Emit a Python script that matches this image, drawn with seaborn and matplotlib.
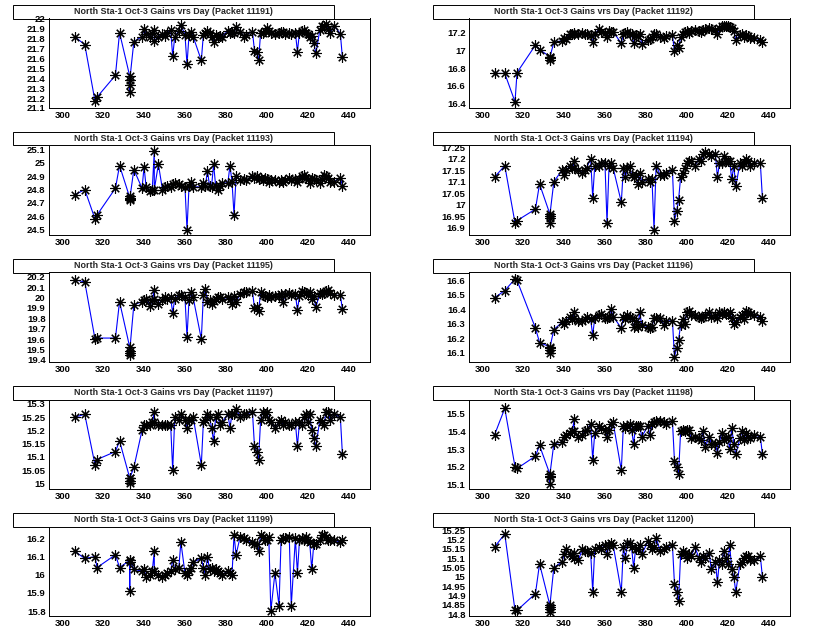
import matplotlib
matplotlib.use("Agg")
import matplotlib.pyplot as plt
from matplotlib.patches import Rectangle
from matplotlib.ticker import MultipleLocator, AutoMinorLocator, FuncFormatter
import seaborn as sns
import pandas as pd

# days (shared by all packets)
days = [306, 311, 316, 317, 326, 328, 333, 333, 333, 333,
        335, 339, 340, 341, 343, 344, 345, 345, 347, 349,
        350, 351, 353, 354, 355, 357, 358, 360, 361, 362,
        363, 364, 368, 369, 370, 371, 372, 373, 374, 375,
        376, 377, 378, 381, 382, 383, 384, 385, 387, 389,
        390, 393, 394, 395, 396, 397, 398, 399, 400, 401,
        402, 404, 406, 407, 408, 409, 411, 412, 414, 415,
        416, 417, 418, 419, 420, 421, 422, 423, 424, 426,
        427, 428, 429, 430, 431, 433, 436, 437]

packets = [11191, 11192, 11193, 11194, 11195, 11196, 11197, 11198, 11199, 11200]

gain_11191 = [21.82, 21.74, 21.17, 21.21, 21.43, 21.86, 21.42, 21.33, 21.26, 21.38,
              21.77, 21.82, 21.90, 21.85, 21.82, 21.86, 21.89, 21.78, 21.82, 21.85,
              21.83, 21.86, 21.89, 21.62, 21.82, 21.88, 21.94, 21.84, 21.54, 21.84,
              21.87, 21.82, 21.58, 21.84, 21.86, 21.88, 21.86, 21.82, 21.77, 21.84,
              21.82, 21.83, 21.82, 21.88, 21.86, 21.87, 21.86, 21.92, 21.87, 21.82,
              21.84, 21.87, 21.68, 21.66, 21.58, 21.86, 21.86, 21.88, 21.91, 21.88,
              21.86, 21.85, 21.86, 21.87, 21.87, 21.85, 21.86, 21.85, 21.86, 21.67,
              21.86, 21.88, 21.89, 21.86, 21.85, 21.82, 21.83, 21.76, 21.65, 21.89,
              21.93, 21.93, 21.95, 21.90, 21.86, 21.93, 21.85, 21.61]

gain_11192 = [16.74, 16.74, 16.42, 16.75, 17.06, 17.01, 16.93, 16.91, 16.89, 16.92,
              17.09, 17.11, 17.14, 17.13, 17.19, 17.18, 17.20, 17.18, 17.19, 17.20,
              17.18, 17.19, 17.17, 17.10, 17.18, 17.24, 17.21, 17.20, 17.15, 17.22,
              17.21, 17.21, 17.08, 17.19, 17.20, 17.21, 17.19, 17.18, 17.08, 17.17,
              17.16, 17.19, 17.07, 17.12, 17.13, 17.15, 17.18, 17.19, 17.15, 17.14,
              17.16, 17.17, 16.99, 17.06, 17.03, 17.15, 17.19, 17.21, 17.22, 17.20,
              17.22, 17.23, 17.22, 17.21, 17.23, 17.24, 17.25, 17.24, 17.23, 17.19,
              17.25, 17.27, 17.28, 17.27, 17.28, 17.26, 17.25, 17.22, 17.12, 17.17,
              17.18, 17.15, 17.17, 17.16, 17.14, 17.14, 17.12, 17.09]

gain_11193 = [24.76, 24.80, 24.58, 24.61, 24.81, 24.98, 24.74, 24.72, 24.75, 24.73,
              24.95, 24.81, 24.97, 24.82, 24.79, 24.80, 25.09, 24.80, 24.99, 24.80,
              24.82, 24.83, 24.82, 24.84, 24.85, 24.84, 24.83, 24.82, 24.50, 24.83,
              24.86, 24.82, 24.82, 24.85, 24.83, 24.94, 24.83, 24.82, 24.99, 24.83,
              24.80, 24.83, 24.85, 24.85, 24.98, 24.86, 24.61, 24.90, 24.87, 24.88,
              24.87, 24.90, 24.89, 24.90, 24.88, 24.89, 24.87, 24.89, 24.88, 24.86,
              24.87, 24.87, 24.86, 24.87, 24.86, 24.87, 24.89, 24.87, 24.88, 24.86,
              24.88, 24.90, 24.91, 24.89, 24.88, 24.85, 24.89, 24.88, 24.87, 24.85,
              24.88, 24.91, 24.90, 24.89, 24.86, 24.86, 24.89, 24.83]

gain_11194 = [17.12, 17.17, 16.92, 16.93, 16.98, 17.09, 16.96, 16.94, 16.92, 16.95,
              17.10, 17.15, 17.13, 17.15, 17.17, 17.16, 17.19, 17.16, 17.15, 17.14,
              17.15, 17.16, 17.20, 17.03, 17.17, 17.17, 17.18, 17.18, 16.92, 17.17,
              17.18, 17.16, 17.01, 17.16, 17.12, 17.16, 17.17, 17.13, 17.12, 17.13,
              17.09, 17.14, 17.10, 17.11, 17.10, 17.11, 16.89, 17.17, 17.13, 17.13,
              17.14, 17.15, 16.93, 16.97, 17.02, 17.12, 17.14, 17.16, 17.18, 17.19,
              17.19, 17.17, 17.20, 17.19, 17.22, 17.23, 17.22, 17.21, 17.22, 17.12,
              17.18, 17.18, 17.21, 17.19, 17.19, 17.19, 17.11, 17.17, 17.08, 17.18,
              17.17, 17.18, 17.20, 17.19, 17.17, 17.18, 17.18, 17.03]

gain_11195 = [20.17, 20.15, 19.60, 19.61, 19.61, 19.96, 19.52, 19.47, 19.45, 19.49,
              19.93, 19.96, 19.98, 19.99, 19.92, 19.98, 20.07, 19.99, 19.94, 19.98,
              20.00, 19.99, 20.00, 19.85, 19.99, 20.02, 20.02, 20.00, 19.62, 19.98,
              20.05, 20.00, 19.60, 20.02, 20.08, 19.96, 19.98, 19.94, 19.97, 19.99,
              20.00, 20.00, 19.99, 20.00, 19.99, 19.94, 20.01, 19.96, 20.03, 20.05,
              20.05, 20.06, 19.90, 19.91, 19.87, 20.05, 20.02, 20.01, 20.00, 20.02,
              20.00, 20.01, 20.01, 20.03, 19.96, 20.03, 20.04, 20.02, 20.03, 19.88,
              20.01, 20.06, 20.05, 20.04, 20.02, 20.05, 19.99, 20.01, 19.91, 20.04,
              20.03, 20.04, 20.06, 20.07, 20.04, 20.02, 20.02, 19.89]

gain_11196 = [16.48, 16.53, 16.61, 16.60, 16.27, 16.17, 16.14, 16.12, 16.10, 16.13,
              16.26, 16.31, 16.30, 16.32, 16.35, 16.33, 16.38, 16.34, 16.32, 16.32,
              16.33, 16.35, 16.33, 16.22, 16.34, 16.36, 16.37, 16.34, 16.34, 16.35,
              16.40, 16.35, 16.27, 16.35, 16.33, 16.36, 16.35, 16.34, 16.28, 16.32,
              16.28, 16.38, 16.29, 16.28, 16.27, 16.28, 16.34, 16.34, 16.34, 16.29,
              16.32, 16.32, 16.07, 16.13, 16.19, 16.29, 16.33, 16.30, 16.38, 16.39,
              16.36, 16.36, 16.35, 16.34, 16.35, 16.36, 16.38, 16.35, 16.36, 16.34,
              16.38, 16.37, 16.38, 16.37, 16.37, 16.38, 16.34, 16.30, 16.31, 16.35,
              16.36, 16.33, 16.39, 16.38, 16.37, 16.36, 16.35, 16.32]

gain_11197 = [15.25, 15.26, 15.07, 15.09, 15.12, 15.16, 15.02, 15.01, 15.00, 15.02,
              15.06, 15.20, 15.22, 15.22, 15.22, 15.23, 15.27, 15.23, 15.22, 15.22,
              15.22, 15.22, 15.22, 15.05, 15.25, 15.24, 15.26, 15.24, 15.21, 15.24,
              15.24, 15.25, 15.07, 15.23, 15.24, 15.26, 15.25, 15.21, 15.16, 15.25,
              15.26, 15.22, 15.23, 15.26, 15.21, 15.26, 15.26, 15.28, 15.25, 15.26,
              15.26, 15.27, 15.14, 15.12, 15.09, 15.24, 15.27, 15.26, 15.27, 15.24,
              15.23, 15.21, 15.23, 15.24, 15.22, 15.23, 15.22, 15.22, 15.23, 15.14,
              15.23, 15.22, 15.25, 15.26, 15.23, 15.26, 15.20, 15.17, 15.14, 15.24,
              15.23, 15.22, 15.27, 15.27, 15.24, 15.26, 15.25, 15.11]

gain_11198 = [15.38, 15.53, 15.20, 15.19, 15.26, 15.32, 15.16, 15.14, 15.10, 15.15,
              15.33, 15.34, 15.37, 15.38, 15.39, 15.40, 15.47, 15.40, 15.37, 15.38,
              15.40, 15.41, 15.44, 15.24, 15.39, 15.43, 15.42, 15.41, 15.37, 15.41,
              15.44, 15.45, 15.18, 15.43, 15.42, 15.43, 15.44, 15.41, 15.33, 15.43,
              15.43, 15.43, 15.37, 15.43, 15.38, 15.44, 15.45, 15.46, 15.46, 15.45,
              15.44, 15.46, 15.23, 15.20, 15.16, 15.40, 15.41, 15.40, 15.41, 15.41,
              15.36, 15.37, 15.36, 15.35, 15.40, 15.31, 15.37, 15.33, 15.33, 15.28,
              15.34, 15.39, 15.35, 15.36, 15.37, 15.30, 15.42, 15.33, 15.27, 15.36,
              15.40, 15.35, 15.39, 15.37, 15.36, 15.38, 15.37, 15.27]

gain_11199 = [16.13, 16.09, 16.10, 16.04, 16.11, 16.04, 16.08, 16.07, 15.91, 16.08,
              16.03, 16.02, 16.03, 15.99, 16.00, 16.02, 16.13, 16.02, 16.00, 15.99,
              16.00, 16.01, 16.02, 16.08, 16.03, 16.04, 16.18, 16.01, 16.00, 16.02,
              16.04, 16.07, 16.09, 16.04, 16.00, 16.10, 16.03, 16.04, 16.02, 16.03,
              16.02, 16.01, 16.00, 16.02, 16.01, 16.00, 16.22, 16.11, 16.21, 16.20,
              16.19, 16.18, 16.17, 16.17, 16.13, 16.22, 16.21, 16.19, 16.19, 16.21,
              15.80, 16.01, 15.83, 16.19, 16.20, 16.20, 16.21, 15.83, 16.20, 16.01,
              16.19, 16.20, 16.19, 16.21, 16.19, 16.18, 16.03, 16.17, 16.17, 16.19,
              16.22, 16.22, 16.21, 16.19, 16.19, 16.19, 16.18, 16.19]

gain_11200 = [15.16, 15.23, 14.82, 14.82, 14.91, 15.07, 14.85, 14.83, 14.81, 14.84,
              15.05, 15.08, 15.12, 15.15, 15.12, 15.11, 15.13, 15.10, 15.09, 15.15,
              15.14, 15.14, 15.13, 14.92, 15.15, 15.16, 15.15, 15.17, 15.12, 15.17,
              15.18, 15.17, 14.92, 15.16, 15.10, 15.18, 15.18, 15.16, 15.05, 15.15,
              15.15, 15.17, 15.12, 15.19, 15.17, 15.15, 15.16, 15.21, 15.14, 15.15,
              15.16, 15.17, 14.96, 14.92, 14.87, 15.12, 15.14, 15.13, 15.10, 15.12,
              15.11, 15.16, 15.10, 15.08, 15.11, 15.10, 15.13, 15.04, 15.08, 14.97,
              15.09, 15.07, 15.14, 15.10, 15.07, 15.17, 15.04, 15.00, 14.92, 15.07,
              15.08, 15.10, 15.11, 15.11, 15.09, 15.09, 15.11, 15.00]

gains = [gain_11191, gain_11192, gain_11193, gain_11194, gain_11195,
         gain_11196, gain_11197, gain_11198, gain_11199, gain_11200]

# y range and major tick step per panel (as on the reference axes)
y_ranges = [(21.1, 22.003), (16.35, 17.36), (24.46, 25.13), (16.867, 17.258),
            (19.38, 20.24), (16.035, 16.655), (14.979, 15.316), (15.074, 15.58),
            (15.773, 16.266), (14.79, 15.27)]
y_steps = [0.1, 0.2, 0.1, 0.05, 0.1, 0.1, 0.05, 0.1, 0.1, 0.05]

sns.set_style("white")
plt.rcParams['font.family'] = ['Liberation Sans', 'DejaVu Sans']
plt.rcParams['font.weight'] = 'bold'

W, H = 840, 635
fig = plt.figure(figsize=(W / 100, H / 100), dpi=100)

fmt = FuncFormatter(lambda v, p: f"{round(v, 4):g}")

for i, pk in enumerate(packets):
    row, col = i // 2, i % 2
    x0 = col * 420
    y0 = row * 127
    ax = fig.add_axes([(x0 + 49) / W, 1 - (y0 + 108) / H, 321 / W, 89.5 / H])

    df = pd.DataFrame({"day": days, "gain": gains[i]})
    sns.lineplot(data=df, x="day", y="gain", ax=ax, estimator=None, sort=False,
                 color="#0000ff", linewidth=0.8, marker=(8, 2, 0), markersize=7.5,
                 markeredgecolor="black", markeredgewidth=0.8)

    ax.set_xlim(293.5, 450.5)
    ax.set_ylim(*y_ranges[i])
    ax.set_xlabel("")
    ax.set_ylabel("")
    ax.xaxis.set_major_locator(MultipleLocator(20))
    ax.xaxis.set_minor_locator(AutoMinorLocator(5))
    ax.yaxis.set_major_locator(MultipleLocator(y_steps[i]))
    ax.yaxis.set_minor_locator(AutoMinorLocator())
    ax.yaxis.set_major_formatter(fmt)
    ax.tick_params(axis='both', which='both', direction='in', colors='black',
                   labelsize=6.8, width=0.6, top=False, right=False)
    ax.tick_params(axis='y', which='major', length=4.3, pad=2.5)
    ax.tick_params(axis='y', which='minor', length=2.2)
    ax.tick_params(axis='x', which='major', length=2.5, pad=2.5)
    ax.tick_params(axis='x', which='minor', length=1.2)
    for s in ax.spines.values():
        s.set_color('black')
        s.set_linewidth(0.7)

    # title box above the frame (drawn under the axes so the top tick label stays visible)
    box = Rectangle(((x0 + 13) / W, 1 - (y0 + 18.5) / H), 321 / W, 13.5 / H,
                    transform=fig.transFigure, facecolor='white',
                    edgecolor='black', linewidth=0.7, zorder=-1)
    fig.add_artist(box)
    fig.text((x0 + 173.5) / W, 1 - (y0 + 11.8) / H,
             f"North Sta-1 Oct-3 Gains vrs Day (Packet {pk})",
             ha='center', va='center', fontsize=6.4, fontweight='bold')

fig.savefig("out.png", dpi=100)
